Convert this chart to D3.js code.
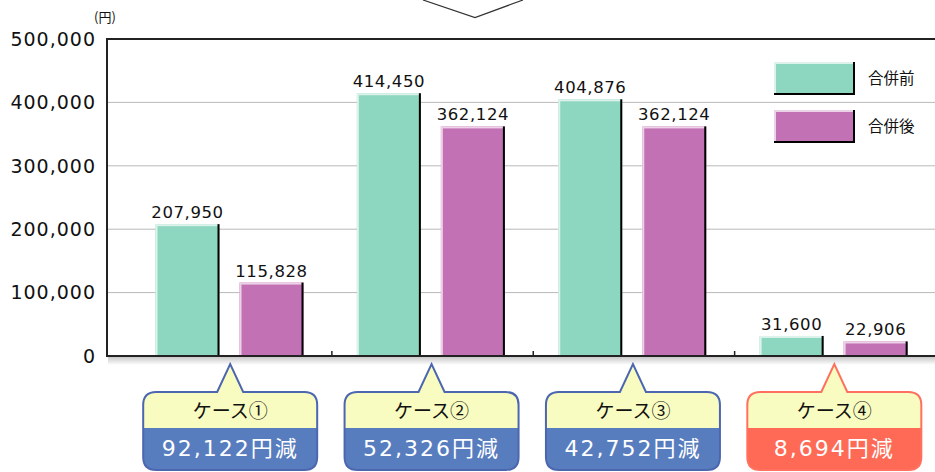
<!DOCTYPE html>
<html>
<head>
<meta charset="utf-8">
<script src="https://cdn.jsdelivr.net/npm/d3@7"></script>
<style>
  body { margin: 0; background: #fff; }
  svg { display: block; }
  text { font-family: "DejaVu Sans", "Noto Sans CJK JP", sans-serif; }
  .jp { font-family: "Noto Sans CJK JP", sans-serif; }
</style>
</head>
<body>
<div id="viz"></div>
<script>
const cases = ['ケース①', 'ケース②', 'ケース③', 'ケース④'];
const series = ['合併前', '合併後'];
const before = [207950, 414450, 404876, 31600];
const after = [115828, 362124, 362124, 22906];
const savings = ['92,122円減', '52,326円減', '42,752円減', '8,694円減'];
const yTicks = [0, 100000, 200000, 300000, 400000, 500000];

const width = 935;
const height = 472;

const colors = { '合併前': '#8dd6bf', '合併後': '#c272b4' };
const lights = { '合併前': '#dcf2ea', '合併後': '#ecd2e7' };
// last callout is the highlighted one
const calloutColors = [
  { border: '#4c66b0', fill: '#587dbf' },
  { border: '#4c66b0', fill: '#587dbf' },
  { border: '#4c66b0', fill: '#587dbf' },
  { border: '#ff705e', fill: '#ff6a56' },
];

const svg = d3.select('#viz')
  .append('svg')
  .attr('width', width)
  .attr('height', height);

const left = 107;
const x0 = d3.scaleBand().domain(cases).range([130.5, 936]);
const x1 = d3.scaleBand().domain(series).range([25, 173]).paddingInner(0.238);
const y = d3.scaleLinear().domain([0, 500000]).range([356, 39]);

const rows = cases.map((c, i) => ({ c, values: [before[i], after[i]] }));

// decorative pointer from the box above
svg.append('path')
  .attr('d', 'M423,0 L475,17.5 L523,0')
  .attr('fill', 'none')
  .attr('stroke', '#333')
  .attr('stroke-width', 1.2);

// grid
svg.append('g')
  .selectAll('line')
  .data(yTicks.filter(t => t > 0 && t < 500000))
  .join('line')
  .attr('x1', left).attr('x2', width)
  .attr('y1', d => y(d)).attr('y2', d => y(d))
  .attr('stroke', '#b9b9b9')
  .attr('stroke-width', 1);

// shadow under baseline
const defs = svg.append('defs');
const grad = defs.append('linearGradient')
  .attr('id', 'shadow').attr('x1', 0).attr('x2', 0).attr('y1', 0).attr('y2', 1);
grad.append('stop').attr('offset', 0).attr('stop-color', '#c9c9c9');
grad.append('stop').attr('offset', 1).attr('stop-color', '#fff');
svg.append('rect')
  .attr('x', left + 1).attr('y', y(0) + 1)
  .attr('width', width - left).attr('height', 8)
  .attr('fill', 'url(#shadow)');

// bars
const groups = svg.append('g')
  .selectAll('g')
  .data(rows)
  .join('g')
  .attr('transform', d => `translate(${x0(d.c)},0)`);

const bars = groups.selectAll('g')
  .data(d => d.values.map((v, i) => ({ s: series[i], v })))
  .join('g');

bars.append('rect')
  .attr('x', d => x1(d.s))
  .attr('y', d => y(d.v))
  .attr('width', x1.bandwidth())
  .attr('height', d => y(0) - y(d.v))
  .attr('fill', d => colors[d.s]);
bars.append('rect')
  .attr('x', d => x1(d.s))
  .attr('y', d => y(d.v))
  .attr('width', 2)
  .attr('height', d => y(0) - y(d.v))
  .attr('fill', d => lights[d.s]);
bars.append('rect')
  .attr('x', d => x1(d.s))
  .attr('y', d => y(d.v))
  .attr('width', x1.bandwidth())
  .attr('height', 2)
  .attr('fill', d => lights[d.s]);
bars.append('rect')
  .attr('x', d => x1(d.s) + x1.bandwidth() - 2)
  .attr('y', d => y(d.v))
  .attr('width', 2)
  .attr('height', d => y(0) - y(d.v))
  .attr('fill', '#000');

bars.append('text')
  .attr('x', d => x1(d.s) + x1.bandwidth() / 2)
  .attr('y', d => y(d.v) - 6)
  .attr('text-anchor', 'middle')
  .attr('font-size', 16.5)
  .attr('letter-spacing', 0.6)
  .attr('fill', '#111')
  .text(d => d3.format(',')(d.v));

// axes lines
svg.append('line')
  .attr('x1', left).attr('x2', width)
  .attr('y1', y(500000)).attr('y2', y(500000))
  .attr('stroke', '#222').attr('stroke-width', 2);
svg.append('line')
  .attr('x1', left).attr('x2', left)
  .attr('y1', y(500000) - 1).attr('y2', y(0) + 1)
  .attr('stroke', '#222').attr('stroke-width', 2);
svg.append('line')
  .attr('x1', left).attr('x2', width)
  .attr('y1', y(0)).attr('y2', y(0))
  .attr('stroke', '#222').attr('stroke-width', 2);

// category ticks between groups
svg.append('g')
  .selectAll('line')
  .data(cases.slice(1))
  .join('line')
  .attr('x1', d => x0(d)).attr('x2', d => x0(d))
  .attr('y1', y(0) - 5).attr('y2', y(0))
  .attr('stroke', '#222').attr('stroke-width', 1.5);

// y tick labels
svg.append('g')
  .selectAll('text')
  .data(yTicks)
  .join('text')
  .attr('x', 96)
  .attr('y', d => y(d))
  .attr('dy', '0.36em')
  .attr('text-anchor', 'end')
  .attr('font-size', 19)
  .attr('letter-spacing', 1)
  .attr('fill', '#111')
  .text(d => d3.format(',')(d));

svg.append('text')
  .attr('class', 'jp')
  .attr('x', 105).attr('y', 17)
  .attr('dy', '0.35em')
  .attr('text-anchor', 'middle')
  .attr('font-size', 13)
  .attr('fill', '#111')
  .text('(円)');

// legend
const legend = svg.append('g')
  .selectAll('g')
  .data(series)
  .join('g')
  .attr('transform', (d, i) => `translate(774,${62 + i * 48})`);
legend.append('rect')
  .attr('width', 81).attr('height', 33)
  .attr('fill', '#000');
legend.append('rect')
  .attr('width', 79).attr('height', 31)
  .attr('fill', d => lights[d]);
legend.append('rect')
  .attr('x', 2).attr('y', 2)
  .attr('width', 77).attr('height', 29)
  .attr('fill', d => colors[d]);
legend.append('text')
  .attr('class', 'jp')
  .attr('x', 94).attr('y', 17)
  .attr('dy', '0.35em')
  .attr('font-size', 15.5)
  .attr('fill', '#111')
  .text(d => d);

// callouts
function bubble(cx) {
  const top = 392, bottom = 470, hw = 87, r = 13, tip = 364, bw = 13;
  const l = cx - hw, rr = cx + hw;
  return `M${l + r},${top} L${cx - bw},${top} L${cx},${tip} L${cx + bw},${top} L${rr - r},${top}
    Q${rr},${top} ${rr},${top + r} L${rr},${bottom - r} Q${rr},${bottom} ${rr - r},${bottom}
    L${l + r},${bottom} Q${l},${bottom} ${l},${bottom - r} L${l},${top + r} Q${l},${top} ${l + r},${top} Z`;
}

const callouts = svg.append('g')
  .selectAll('g')
  .data(cases)
  .join('g');

callouts.each(function (c, i) {
  const g = d3.select(this);
  const cx = x0(c) + x0.bandwidth() / 2 - 1;
  const id = `clip${i}`;
  defs.append('clipPath').attr('id', id)
    .append('path').attr('d', bubble(cx));
  g.append('path').attr('d', bubble(cx)).attr('fill', '#f9fcc0');
  g.append('rect')
    .attr('clip-path', `url(#${id})`)
    .attr('x', cx - 90).attr('y', 428)
    .attr('width', 180).attr('height', 50)
    .attr('fill', calloutColors[i].fill);
  g.append('path').attr('d', bubble(cx))
    .attr('fill', 'none')
    .attr('stroke', calloutColors[i].border)
    .attr('stroke-width', 2);
  g.append('text')
    .attr('class', 'jp')
    .attr('x', cx).attr('y', 411)
    .attr('dy', '0.35em')
    .attr('text-anchor', 'middle')
    .attr('font-size', 19)
    .attr('fill', '#111')
    .text(c);
  g.append('text')
    .attr('x', cx).attr('y', 448)
    .attr('dy', '0.35em')
    .attr('text-anchor', 'middle')
    .attr('font-size', 22)
    .attr('letter-spacing', 2)
    .attr('fill', '#fff')
    .text(savings[i]);
});
</script>
</body>
</html>
